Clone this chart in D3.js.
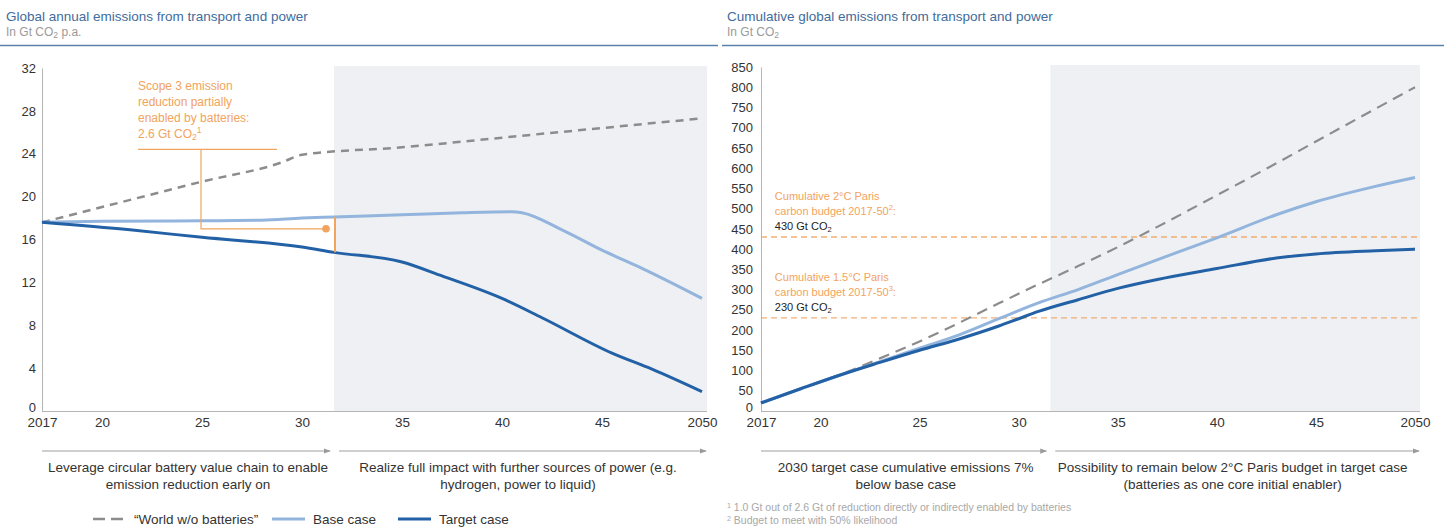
<!DOCTYPE html>
<html><head><meta charset="utf-8">
<script src="https://cdn.jsdelivr.net/npm/d3@7"></script>
<style>
body{margin:0;background:#fff;}
svg{display:block;font-family:"Liberation Sans",Arial,sans-serif;}
</style></head><body>
<svg id="c" width="1444" height="528"></svg>
<script>
// ---------- DATA ----------
const xTicks = [2017, 2020, 2025, 2030, 2035, 2040, 2045, 2050];
const xTickLabels = ["2017", "20", "25", "30", "35", "40", "45", "2050"];
const leftYTicks = [0, 4, 8, 12, 16, 20, 24, 28, 32];
const rightYTicks = [0,50,100,150,200,250,300,350,400,450,500,550,600,650,700,750,800,850];

// Annual emissions (Gt CO2 p.a.)
const worldYears = [2017, 2021, 2025, 2029, 2030, 2035, 2040, 2045, 2050];
const worldAnnual = [17.6, 19.5, 21.4, 23.2, 23.9, 24.6, 25.5, 26.4, 27.3];
const baseYears = [2017, 2020, 2025, 2028, 2030, 2031.6, 2035, 2038, 2040.5, 2041, 2043, 2045, 2047, 2050];
const baseAnnual = [17.6, 17.7, 17.75, 17.8, 18.0, 18.1, 18.3, 18.5, 18.6, 18.5, 16.9, 15.0, 13.3, 10.5];
const targetYears = [2017, 2021.4, 2025, 2030, 2031.6, 2035, 2037, 2040, 2042, 2045.5, 2047.5, 2050];
const targetAnnual = [17.6, 16.9, 16.2, 15.3, 14.8, 13.9, 12.6, 10.5, 8.7, 5.4, 3.9, 1.8];

// Cumulative emissions (Gt CO2)
const worldCumYears = [2017, 2019, 2021, 2023, 2025, 2027, 2029, 2031, 2033, 2035, 2037, 2040, 2043, 2045, 2050];
const worldCum = [20, 55, 90, 130, 172, 218, 266, 313, 358, 405, 455, 533, 612, 666, 800];
const baseCumYears = [2017, 2019, 2021, 2023, 2025, 2027, 2029, 2030, 2031, 2033, 2035, 2038, 2040, 2043, 2045, 2048, 2050];
const baseCum = [20, 55, 89, 122, 155, 188, 228, 248, 267, 300, 337, 392, 428, 485, 517, 555, 577];
const targetCumYears = [2017, 2019, 2021, 2023, 2025, 2027, 2029, 2030, 2031, 2033, 2035, 2037, 2040, 2043, 2045, 2048, 2050];
const targetCum = [20, 55, 89, 120, 150, 178, 210, 228, 246, 275, 303, 325, 352, 378, 388, 396, 400];

const budgets = [430, 230];
const phaseSplit = 2031.6;

// ---------- STYLE ----------
const C = {
  title: "#3f6c9c", sub: "#9a9a9a", rule: "#5b80ab",
  world: "#8c8c8c", base: "#93b5dd", target: "#2361a6",
  orange: "#f2a35e", band: "#eef0f3", axis: "#b5b5b5", text: "#333"
};
const FONT = "Liberation Sans, Arial, sans-serif";
const svg = d3.select("#c");

function panel(opt) {
  const g = svg.append("g");
  g.append("text").attr("x", opt.tx).attr("y", 21).attr("font-size", 13.5)
    .attr("fill", C.title).text(opt.title);
  const st = g.append("text").attr("x", opt.tx).attr("y", 36).attr("font-size", 12)
    .attr("fill", C.sub);
  st.append("tspan").text("In Gt CO");
  st.append("tspan").attr("font-size", 8.5).attr("baseline-shift", "-25%").text("2");
  if (opt.subExtra) st.append("tspan").text(opt.subExtra);
  g.append("line").attr("x1", opt.rx1).attr("x2", opt.rx2).attr("y1", 45.5).attr("y2", 45.5)
    .attr("stroke", C.rule).attr("stroke-width", 1.5);

  const x = d3.scaleLinear().domain([2017, 2050]).range([opt.x0, opt.x1]);
  const y = d3.scaleLinear().domain([0, opt.ymax]).range([411, opt.ytop]);

  g.append("rect").attr("x", x(phaseSplit)).attr("y", y(opt.ymax) - 2)
    .attr("width", x(2050) + 5 - x(phaseSplit)).attr("height", y(0) - y(opt.ymax) + 2)
    .attr("fill", C.band);

  const ya = g.append("g").attr("transform", `translate(${opt.x0},0)`)
    .call(d3.axisLeft(y).tickValues(opt.yTicks).tickSize(0).tickPadding(opt.yPad));
  ya.select(".domain").attr("stroke", C.axis);
  ya.selectAll("text").attr("font-size", 13).attr("fill", C.text).attr("font-family", FONT);
  ya.selectAll(".tick").filter(d => d === 0).select("text").attr("dy", "0.0em");

  const xa = g.append("g").attr("transform", `translate(0,${y(0)})`)
    .call(d3.axisBottom(x).tickValues(xTicks).tickSize(0).tickPadding(6)
      .tickFormat((d, i) => xTickLabels[i]));
  xa.select(".domain").attr("stroke", C.axis).attr("d", `M${opt.x0},0.5H${x(2050) + 5}`);
  xa.selectAll("text").attr("font-size", 13.5).attr("fill", C.text).attr("font-family", FONT);

  const defsId = "ah" + opt.id;
  svg.append("defs").append("marker").attr("id", defsId).attr("viewBox", "0 0 8 8")
    .attr("refX", 7).attr("refY", 4).attr("markerWidth", 7).attr("markerHeight", 7)
    .attr("orient", "auto").attr("markerUnits", "userSpaceOnUse")
    .append("path").attr("d", "M0,1L8,4L0,7Z").attr("fill", "#9a9a9a");
  [[2017, phaseSplit - 0.2], [phaseSplit + 0.25, 2050.2]].forEach(([a, b]) => {
    g.append("line").attr("x1", x(a)).attr("x2", x(b)).attr("y1", 451).attr("y2", 451)
      .attr("stroke", "#a0a0a0").attr("stroke-width", 1.2).attr("marker-end", `url(#${defsId})`);
  });
  opt.phaseText.forEach((lines, i) => {
    const cx = i === 0 ? (x(2017) + x(phaseSplit)) / 2 : (x(phaseSplit) + x(2050)) / 2;
    lines.forEach((t, j) => {
      g.append("text").attr("x", cx).attr("y", 472 + j * 17)
        .attr("text-anchor", "middle").attr("font-size", 13.5).attr("fill", C.text).text(t);
    });
  });
  return {g, x, y};
}

function drawLine(p, xs, ys, color, w, dash) {
  const pts = xs.map((d, i) => [d, ys[i]]);
  const path = p.g.append("path").datum(pts)
    .attr("d", d3.line().x(d => p.x(d[0])).y(d => p.y(d[1])).curve(d3.curveMonotoneX))
    .attr("fill", "none").attr("stroke", color).attr("stroke-width", w)
    .attr("stroke-linejoin", "round");
  if (dash) path.attr("stroke-dasharray", dash);
  return path;
}
function interp(xs, ys, v) { return d3.scaleLinear().domain(xs).range(ys)(v); }

// ---------- LEFT PANEL ----------
const L = panel({
  id: "L", tx: 6, rx1: 0, rx2: 718, title: "Global annual emissions from transport and power",
  subExtra: " p.a.", x0: 42, x1: 702, ymax: 32, ytop: 68, yTicks: leftYTicks, yPad: 6,
  phaseText: [["Leverage circular battery value chain to enable", "emission reduction early on"],
              ["Realize full impact with further sources of power (e.g.", "hydrogen, power to liquid)"]]
});
drawLine(L, worldYears, worldAnnual, C.world, 2.5, "8,6");
drawLine(L, baseYears, baseAnnual, C.base, 3);
drawLine(L, targetYears, targetAnnual, C.target, 3);

const annLines = ["Scope 3 emission", "reduction partially", "enabled by batteries:"];
annLines.forEach((t, i) => {
  L.g.append("text").attr("x", L.x(2021.8)).attr("y", 90 + i * 16).attr("font-size", 12)
    .attr("fill", C.orange).text(t);
});
const a4 = L.g.append("text").attr("x", L.x(2021.8)).attr("y", 138).attr("font-size", 12)
  .attr("fill", C.orange);
a4.append("tspan").text("2.6 Gt CO");
a4.append("tspan").attr("font-size", 8.5).attr("baseline-shift", "-25%").text("2");
a4.append("tspan").attr("font-size", 8.5).attr("baseline-shift", "60%").text("1");
L.g.append("path").attr("fill", "none").attr("stroke", C.orange).attr("stroke-width", 1.2)
  .attr("d", `M${L.x(2021.8)},${L.y(24.4)}H${L.x(2028.75)}M${L.x(2024.95)},${L.y(24.4)}V${L.y(17.0)}H${L.x(2031.2)}`);
L.g.append("circle").attr("cx", L.x(2031.2)).attr("cy", L.y(17.0)).attr("r", 3.8).attr("fill", C.orange);
const bx = L.x(phaseSplit) + 1;
L.g.append("line").attr("x1", bx).attr("x2", bx)
  .attr("y1", L.y(interp(baseYears, baseAnnual, phaseSplit)))
  .attr("y2", L.y(interp(targetYears, targetAnnual, phaseSplit)))
  .attr("stroke", C.orange).attr("stroke-width", 2);

// legend
const legend = [
  {label: "\u201CWorld w/o batteries\u201D", color: C.world, dash: "12,6", w: 2.5, x: 93},
  {label: "Base case", color: C.base, dash: null, w: 3, x: 272},
  {label: "Target case", color: C.target, dash: null, w: 3, x: 398}
];
legend.forEach(d => {
  const l = svg.append("line").attr("x1", d.x).attr("x2", d.x + 33).attr("y1", 519).attr("y2", 519)
    .attr("stroke", d.color).attr("stroke-width", d.w);
  if (d.dash) l.attr("stroke-dasharray", d.dash);
  svg.append("text").attr("x", d.x + 41).attr("y", 524).attr("font-size", 13.5)
    .attr("fill", C.text).text(d.label);
});

// ---------- RIGHT PANEL ----------
const R = panel({
  id: "R", tx: 727, rx1: 722, rx2: 1444, title: "Cumulative global emissions from transport and power",
  subExtra: null, x0: 761, x1: 1415, ymax: 850, ytop: 67, yTicks: rightYTicks, yPad: 8,
  phaseText: [["2030 target case cumulative emissions 7%", "below base case"],
              ["Possibility to remain below 2\u00B0C Paris budget in target case", "(batteries as one core initial enabler)"]]
});

const budgetLabels = [
  ["Cumulative 2\u00B0C Paris", "carbon budget 2017-50", "2", "430 Gt CO"],
  ["Cumulative 1.5\u00B0C Paris", "carbon budget 2017-50", "3", "230 Gt CO"]
];
budgets.forEach((b, i) => {
  R.g.append("line").attr("x1", R.x(2017)).attr("x2", R.x(2050) + 5)
    .attr("y1", R.y(b)).attr("y2", R.y(b)).attr("stroke", C.orange).attr("stroke-width", 1.3)
    .attr("stroke-dasharray", "6,4").attr("opacity", 0.85);
  const lx = R.x(2017.7), ly = R.y(b);
  const bl = budgetLabels[i];
  R.g.append("text").attr("x", lx).attr("y", ly - 37).attr("font-size", 11).attr("fill", C.orange)
    .text(bl[0]);
  const t2 = R.g.append("text").attr("x", lx).attr("y", ly - 22).attr("font-size", 11).attr("fill", C.orange);
  t2.append("tspan").text(bl[1]);
  t2.append("tspan").attr("font-size", 7.5).attr("baseline-shift", "60%").text(bl[2]);
  t2.append("tspan").text(":");
  const t3 = R.g.append("text").attr("x", lx).attr("y", ly - 7).attr("font-size", 11).attr("fill", "#222");
  t3.append("tspan").text(bl[3]);
  t3.append("tspan").attr("font-size", 7.5).attr("baseline-shift", "-25%").text("2");
});

drawLine(R, worldCumYears, worldCum, C.world, 2.2, "11,7");
drawLine(R, baseCumYears, baseCum, C.base, 3);
drawLine(R, targetCumYears, targetCum, C.target, 3);

const notes = [["1", " 1.0 Gt out of 2.6 Gt of reduction directly or indirectly enabled by batteries"],
               ["2", " Budget to meet with 50% likelihood"]];
notes.forEach((n, i) => {
  const t = svg.append("text").attr("x", 727).attr("y", 511 + i * 13).attr("font-size", 10.5)
    .attr("fill", "#a8a8a8");
  t.append("tspan").attr("font-size", 7).attr("baseline-shift", "50%").text(n[0]);
  t.append("tspan").text(n[1]);
});
</script>
</body></html>
